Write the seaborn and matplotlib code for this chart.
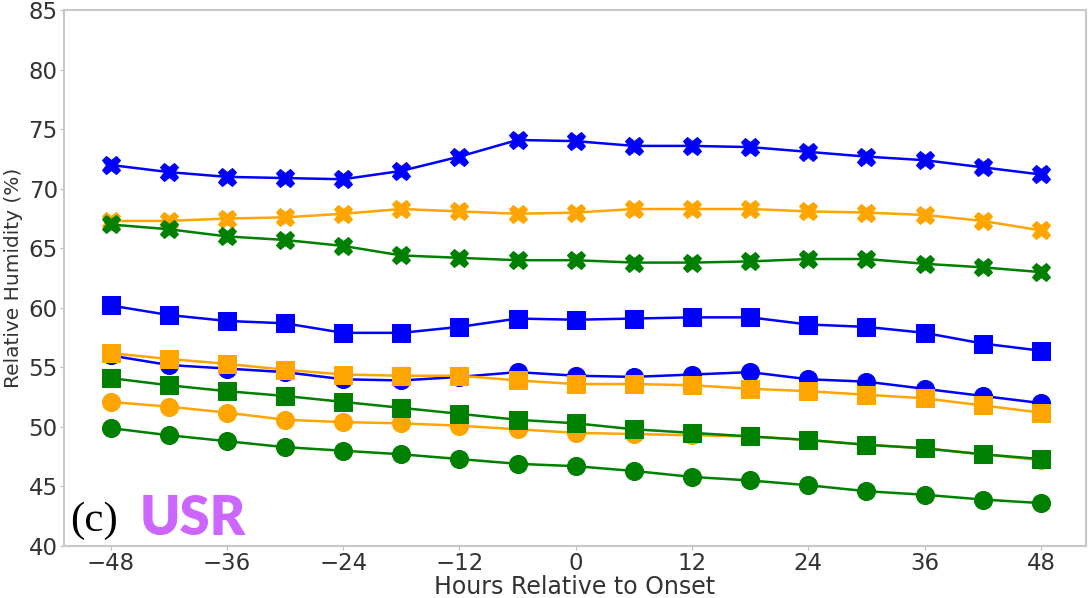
import numpy as np
import pandas as pd
import matplotlib
matplotlib.use("Agg")
import matplotlib.pyplot as plt
import seaborn as sns

# DATA

hours = [-48, -42, -36, -30, -24, -18, -12, -6, 0, 6, 12, 18, 24, 30, 36, 42, 48]

blue_circle = [56.0, 55.2, 54.9, 54.6, 54.0, 53.9, 54.2, 54.6, 54.3, 54.2, 54.4, 54.6, 54.0, 53.8, 53.2, 52.6, 52.0]
orange_circle = [52.1, 51.7, 51.2, 50.6, 50.4, 50.3, 50.1, 49.8, 49.5, 49.4, 49.3, 49.2, 48.9, 48.5, 48.2, 47.7, 47.2]
green_circle = [49.9, 49.3, 48.8, 48.3, 48.0, 47.7, 47.3, 46.9, 46.7, 46.3, 45.8, 45.5, 45.1, 44.6, 44.3, 43.9, 43.6]

blue_square = [60.2, 59.4, 58.9, 58.7, 57.9, 57.9, 58.4, 59.1, 59.0, 59.1, 59.2, 59.2, 58.6, 58.4, 57.9, 57.0, 56.4]
orange_square = [56.2, 55.7, 55.3, 54.8, 54.4, 54.3, 54.3, 53.9, 53.6, 53.6, 53.5, 53.2, 53.0, 52.7, 52.4, 51.8, 51.2]
green_square = [54.1, 53.5, 53.0, 52.6, 52.1, 51.6, 51.1, 50.6, 50.3, 49.8, 49.5, 49.2, 48.9, 48.5, 48.2, 47.7, 47.3]

blue_x = [72.0, 71.4, 71.0, 70.9, 70.8, 71.5, 72.7, 74.1, 74.0, 73.6, 73.6, 73.5, 73.1, 72.7, 72.4, 71.8, 71.2]
orange_x = [67.3, 67.3, 67.5, 67.6, 67.9, 68.3, 68.1, 67.9, 68.0, 68.3, 68.3, 68.3, 68.1, 68.0, 67.8, 67.3, 66.5]
green_x = [67.0, 66.6, 66.0, 65.7, 65.2, 64.4, 64.2, 64.0, 64.0, 63.8, 63.8, 63.9, 64.1, 64.1, 63.7, 63.4, 63.0]

# ordre de tracé = ordre d'empilement
series = [
    (blue_circle, "blue", "o"), (orange_circle, "orange", "o"), (green_circle, "green", "o"),
    (blue_square, "blue", "s"), (orange_square, "orange", "s"), (green_square, "green", "s"),
    (blue_x, "blue", "X"), (orange_x, "orange", "X"), (green_x, "green", "X"),
]

# PLOT

sns.set_style("white")
fig = plt.figure(figsize=(10.89, 5.98), dpi=100)
ax = fig.add_axes([0.0588, 0.087, 0.938, 0.896])

for values, color, marker in series:
    df = pd.DataFrame({"hours": hours, "rh": values})
    sns.lineplot(data=df, x="hours", y="rh", color=color, marker=marker,
                 markersize=13, markeredgecolor=color, linewidth=1.8, ax=ax)

ax.set_ylim(40, 85)
ax.set_xlim(-52.8, 52.6)
ax.set_xticks(np.arange(-48, 49, 12))
ax.set_yticks(np.arange(40, 86, 5))
ax.set_xticklabels(["\u221248", "\u221236", "\u221224", "\u221212", "0", "12", "24", "36", "48"])
ax.tick_params(axis="both", labelsize=16.5, labelcolor="#333333", length=3,
               color="#bbbbbb", left=True, bottom=True, pad=1.5)
ax.set_xlabel("Hours Relative to Onset", fontsize=17, color="#333333", labelpad=0)
ax.set_ylabel("Relative Humidity (%)", fontsize=14.5, color="#333333", labelpad=4)

for sp in ax.spines.values():
    sp.set_color("#c8c8c8")
    sp.set_linewidth(1.5)

ax.text(0.006, 0.028, "(c)", transform=ax.transAxes, fontsize=31,
        family="Liberation Serif", color="black", va="baseline", ha="left")
ax.text(0.074, 0.02, "USR", transform=ax.transAxes, fontsize=39,
        family="Lato", fontweight="heavy", color="#cc66ff", va="baseline", ha="left")

fig.savefig("out.png", dpi=100)
plt.close()
